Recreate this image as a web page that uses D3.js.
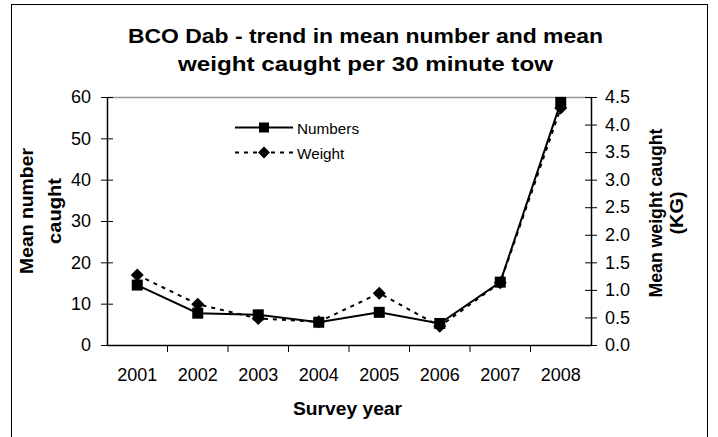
<!DOCTYPE html>
<html>
<head>
<meta charset="utf-8">
<script src="https://cdn.jsdelivr.net/npm/d3@7"></script>
<style>
  html, body { margin: 0; padding: 0; background: #fff; }
  text { font-family: "Liberation Sans", Arial, sans-serif; fill: #000; }
</style>
</head>
<body>
<svg id="chart" width="718" height="437"></svg>
<script>
const years = ["2001","2002","2003","2004","2005","2006","2007","2008"];
const numbers = [14.5, 7.7, 7.3, 5.5, 7.9, 5.2, 15.2, 58.7];
const weight = [1.27, 0.74, 0.48, 0.42, 0.94, 0.34, 1.13, 4.30];
const leftTicks = [0, 10, 20, 30, 40, 50, 60];
const rightTicks = [0, 0.5, 1.0, 1.5, 2.0, 2.5, 3.0, 3.5, 4.0, 4.5];
const titleLines = ["BCO Dab - trend in mean number and mean", "weight caught per 30 minute tow"];

const svg = d3.select("#chart");
const m = { left: 107, right: 591, top: 97, bottom: 345 };
const FONT = "Liberation Sans, Arial, sans-serif";

// outer border
svg.append("rect").attr("x", 11.5).attr("y", 4.5).attr("width", 696).attr("height", 440)
  .attr("fill", "none").attr("stroke", "#000").attr("stroke-width", 1);

const x = d3.scaleBand().domain(years).range([m.left, m.right]);
const yL = d3.scaleLinear().domain([0, 60]).range([m.bottom, m.top]);
const yR = d3.scaleLinear().domain([0, 4.5]).range([m.bottom, m.top]);

// plot area top border
svg.append("line").attr("x1", m.left).attr("x2", m.right).attr("y1", m.top + 0.5).attr("y2", m.top + 0.5)
  .attr("stroke", "#999").attr("stroke-width", 1.5);

// left axis
const gL = svg.append("g").attr("transform", `translate(${m.left},0)`)
  .call(d3.axisLeft(yL).tickValues(leftTicks).tickSize(6).tickPadding(10).tickSizeOuter(0));
gL.selectAll(".tick line").attr("x2", 6).attr("x1", -6);
// right axis
const gR = svg.append("g").attr("transform", `translate(${m.right},0)`)
  .call(d3.axisRight(yR).tickValues(rightTicks).tickFormat(d3.format(".1f")).tickSize(6).tickPadding(8).tickSizeOuter(0));
gR.selectAll(".tick line").attr("x1", -6).attr("x2", 6);
// bottom axis with ticks at category boundaries
const gB = svg.append("g").attr("transform", `translate(0,${m.bottom})`)
  .call(d3.axisBottom(x).tickSize(0).tickPadding(23).tickSizeOuter(0));
gB.selectAll(".tick").each(function(d, i) {
  if (i < years.length - 1)
    d3.select(this).append("line").attr("x1", x.bandwidth() / 2).attr("x2", x.bandwidth() / 2)
      .attr("y1", 0).attr("y2", 7).attr("stroke", "#000");
});
[gL, gR, gB].forEach(g => {
  g.selectAll("path.domain").attr("stroke", "#000").attr("stroke-width", 1.5);
  g.selectAll(".tick line").attr("stroke", "#000");
  g.selectAll("text").attr("font-size", 18).attr("font-family", FONT);
});

const cx = d => x(d) + x.bandwidth() / 2;

// weight line (dashed)
const lineW = d3.line().x((d, i) => cx(years[i])).y(d => yR(d));
svg.append("path").datum(weight).attr("d", lineW).attr("fill", "none")
  .attr("stroke", "#000").attr("stroke-width", 2).attr("stroke-dasharray", "4,5");
// numbers line
const lineN = d3.line().x((d, i) => cx(years[i])).y(d => yL(d));
svg.append("path").datum(numbers).attr("d", lineN).attr("fill", "none")
  .attr("stroke", "#000").attr("stroke-width", 2);

function diamondPath(cxp, cyp, r) {
  return `M${cxp},${cyp - r}L${cxp + r},${cyp}L${cxp},${cyp + r}L${cxp - r},${cyp}Z`;
}
svg.append("g").selectAll("path").data(weight).join("path")
  .attr("d", (d, i) => diamondPath(cx(years[i]), yR(d), 6.5)).attr("fill", "#000");
svg.append("g").selectAll("rect").data(numbers).join("rect")
  .attr("x", (d, i) => cx(years[i]) - 5.5).attr("y", d => yL(d) - 5.5)
  .attr("width", 11).attr("height", 11).attr("fill", "#000");

// legend
const lg = svg.append("g");
lg.append("line").attr("x1", 235).attr("x2", 293).attr("y1", 127.5).attr("y2", 127.5).attr("stroke", "#000").attr("stroke-width", 2);
lg.append("rect").attr("x", 259).attr("y", 122.5).attr("width", 10).attr("height", 10).attr("fill", "#000");
lg.append("text").attr("x", 297).attr("y", 133.5).attr("font-size", 15.3).text("Numbers");
lg.append("line").attr("x1", 235).attr("x2", 295).attr("y1", 152.5).attr("y2", 152.5).attr("stroke", "#000").attr("stroke-width", 2).attr("stroke-dasharray", "4,5");
lg.append("path").attr("d", diamondPath(264, 152.5, 6)).attr("fill", "#000");
lg.append("text").attr("x", 297).attr("y", 158.5).attr("font-size", 15.3).text("Weight");

// title
const titleLens = [475, 375];
svg.append("g").selectAll("text").data(titleLines).join("text")
  .attr("x", 365.5).attr("y", (d, i) => 42.5 + i * 28.5).attr("text-anchor", "middle")
  .attr("font-size", 21).attr("font-weight", "bold")
  .attr("textLength", (d, i) => titleLens[i]).attr("lengthAdjust", "spacingAndGlyphs")
  .text(d => d);

// axis titles
svg.append("text").attr("x", 347.5).attr("y", 415).attr("text-anchor", "middle")
  .attr("font-size", 19).attr("font-weight", "bold")
  .attr("textLength", 109).attr("lengthAdjust", "spacingAndGlyphs").text("Survey year");

function rotTitle(cy, lines) {
  const g = svg.append("g").attr("transform", `translate(0,${cy}) rotate(-90)`);
  lines.forEach(l => {
    g.append("text").attr("x", 0).attr("y", l.base).attr("text-anchor", "middle")
      .attr("font-size", 18).attr("font-weight", "bold")
      .attr("textLength", l.len).attr("lengthAdjust", "spacingAndGlyphs").text(l.t);
  });
}
rotTitle(211, [{ t: "Mean number", base: 33, len: 126 }, { t: "caught", base: 61, len: 66 }]);
rotTitle(213, [{ t: "Mean weight caught", base: 662, len: 169 }, { t: "(KG)", base: 683, len: 43 }]);
</script>
</body>
</html>
